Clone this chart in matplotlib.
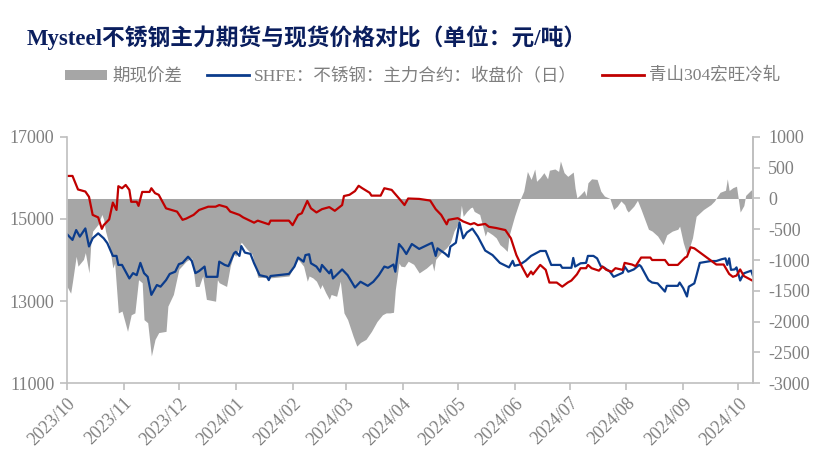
import matplotlib
matplotlib.use("Agg")
import matplotlib.pyplot as plt
import matplotlib.dates as mdates
import numpy as np
import pandas as pd
from matplotlib.patches import Patch
from matplotlib.lines import Line2D

plt.rcParams["axes.unicode_minus"] = False

BLUE = "#0B3C8C"
RED = "#C00000"
GRAY = "#A6A6A6"
TXT = "#7F7F7F"
SPINE = "#BFBFBF"
FONT = ["Liberation Serif", "Noto Sans CJK SC"]

# SHFE stainless main contract close (left axis)
fut_dates = [
    "2023-10-01", "2023-10-04", "2023-10-06", "2023-10-08", "2023-10-11", "2023-10-13", "2023-10-15",
    "2023-10-18", "2023-10-21", "2023-10-23", "2023-10-26", "2023-10-28", "2023-10-29", "2023-10-31",
    "2023-11-04", "2023-11-06", "2023-11-08", "2023-11-10", "2023-11-12", "2023-11-14", "2023-11-16",
    "2023-11-19", "2023-11-21", "2023-11-24", "2023-11-26", "2023-11-29", "2023-12-01", "2023-12-03",
    "2023-12-06", "2023-12-08", "2023-12-10", "2023-12-12", "2023-12-15", "2023-12-16", "2023-12-22",
    "2023-12-23", "2023-12-26", "2023-12-28", "2023-12-31", "2024-01-01", "2024-01-03", "2024-01-04",
    "2024-01-06", "2024-01-09", "2024-01-11", "2024-01-14", "2024-01-18", "2024-01-19", "2024-01-20",
    "2024-01-30", "2024-02-02", "2024-02-04", "2024-02-07", "2024-02-08", "2024-02-10", "2024-02-11",
    "2024-02-14", "2024-02-16", "2024-02-17", "2024-02-21", "2024-02-22", "2024-02-23", "2024-02-28",
    "2024-03-02", "2024-03-06", "2024-03-09", "2024-03-13", "2024-03-16", "2024-03-19", "2024-03-22",
    "2024-03-24", "2024-03-27", "2024-03-28", "2024-03-30", "2024-04-01", "2024-04-03", "2024-04-06",
    "2024-04-10", "2024-04-17", "2024-04-19", "2024-04-20", "2024-04-24", "2024-04-26", "2024-04-27",
    "2024-04-30", "2024-05-02", "2024-05-04", "2024-05-06", "2024-05-09", "2024-05-12", "2024-05-16",
    "2024-05-20", "2024-05-24", "2024-05-29", "2024-05-31", "2024-06-01", "2024-06-04", "2024-06-07",
    "2024-06-10", "2024-06-15", "2024-06-18", "2024-06-21", "2024-06-26", "2024-06-27", "2024-07-02",
    "2024-07-03", "2024-07-04", "2024-07-07", "2024-07-10", "2024-07-11", "2024-07-14", "2024-07-16",
    "2024-07-18", "2024-07-20", "2024-07-23", "2024-07-25", "2024-07-30", "2024-07-31", "2024-08-02",
    "2024-08-05", "2024-08-08", "2024-08-09", "2024-08-13", "2024-08-15", "2024-08-18", "2024-08-22",
    "2024-08-23", "2024-08-29", "2024-08-30", "2024-09-01", "2024-09-03", "2024-09-04", "2024-09-07",
    "2024-09-08", "2024-09-10", "2024-09-16", "2024-09-19", "2024-09-22", "2024-09-24", "2024-09-25",
    "2024-09-26", "2024-09-27", "2024-09-29", "2024-09-30", "2024-10-02", "2024-10-04", "2024-10-08",
    "2024-10-09",
]
fut_close = [
    14630, 14490, 14730, 14570, 14770, 14330, 14530,
    14650, 14530, 14410, 14100, 14100, 13880, 13880,
    13550, 13680, 13630, 13930, 13680, 13590, 13150,
    13390, 13350, 13510, 13660, 13715, 13900, 13930,
    14080, 13980, 13680, 13730, 13840, 13590, 13590,
    13960, 13880, 13850, 14160, 14200, 14100, 14340,
    14180, 14150, 13920, 13630, 13590, 13510, 13610,
    13660, 13840, 14060, 13960, 14120, 14140, 13920,
    13840, 13715, 13880, 13675, 13760, 13550, 13770,
    13630, 13330, 13470, 13370, 13470, 13630, 13840,
    13810, 13890, 13715, 14390, 14285, 14146, 14390,
    14270, 14420, 14100, 14285, 14160, 14080, 14325,
    14420, 14910, 14530, 14670, 14765, 14570, 14230,
    14120, 13930, 13820, 13980, 13860, 13890, 13980,
    14100, 14220, 14220, 13880, 13880, 13810, 13810,
    14050, 13840, 13920, 13930, 14100, 14100, 14040,
    13850, 13810, 13715, 13590, 13690, 13840, 13715,
    13770, 13880, 13840, 13510, 13450, 13430, 13230,
    13370, 13370, 13450, 13310, 13110, 13350, 13430,
    13590, 13930, 13975, 13975, 14020, 14040, 13880,
    14040, 13760, 13770, 13820, 13500, 13675, 13740,
    13610,
]

# Tsingshan 304 cold-rolled spot (left axis)
spot_dates = [
    "2023-10-01", "2023-10-04", "2023-10-07", "2023-10-11", "2023-10-13", "2023-10-15", "2023-10-18",
    "2023-10-20", "2023-10-21", "2023-10-24", "2023-10-26", "2023-10-28", "2023-10-29", "2023-10-31",
    "2023-11-02", "2023-11-04", "2023-11-05", "2023-11-08", "2023-11-09", "2023-11-11", "2023-11-15",
    "2023-11-16", "2023-11-18", "2023-11-20", "2023-11-24", "2023-11-30", "2023-12-03", "2023-12-05",
    "2023-12-09", "2023-12-12", "2023-12-17", "2023-12-21", "2023-12-23", "2023-12-27", "2023-12-29",
    "2024-01-03", "2024-01-05", "2024-01-11", "2024-01-13", "2024-01-19", "2024-01-20", "2024-01-30",
    "2024-02-01", "2024-02-04", "2024-02-06", "2024-02-09", "2024-02-11", "2024-02-14", "2024-02-17",
    "2024-02-21", "2024-02-24", "2024-02-28", "2024-02-29", "2024-03-03", "2024-03-06", "2024-03-08",
    "2024-03-10", "2024-03-14", "2024-03-15", "2024-03-20", "2024-03-22", "2024-03-26", "2024-03-31",
    "2024-04-02", "2024-04-04", "2024-04-10", "2024-04-16", "2024-04-19", "2024-04-22", "2024-04-25",
    "2024-04-26", "2024-05-01", "2024-05-04", "2024-05-08", "2024-05-10", "2024-05-12", "2024-05-16",
    "2024-05-18", "2024-05-22", "2024-05-27", "2024-05-30", "2024-06-02", "2024-06-05", "2024-06-08",
    "2024-06-10", "2024-06-11", "2024-06-15", "2024-06-18", "2024-06-20", "2024-06-24", "2024-06-27",
    "2024-06-30", "2024-07-02", "2024-07-05", "2024-07-07", "2024-07-10", "2024-07-11", "2024-07-13",
    "2024-07-17", "2024-07-19", "2024-07-21", "2024-07-24", "2024-07-26", "2024-07-30", "2024-07-31",
    "2024-08-04", "2024-08-06", "2024-08-09", "2024-08-14", "2024-08-15", "2024-08-22", "2024-08-24",
    "2024-08-29", "2024-09-02", "2024-09-03", "2024-09-05", "2024-09-07", "2024-09-12", "2024-09-19",
    "2024-09-23", "2024-09-26", "2024-09-28", "2024-09-30", "2024-10-02", "2024-10-04", "2024-10-09",
]
spot_price = [
    16050, 16050, 15720, 15670, 15540, 15100, 15040,
    14760, 14850, 14990, 15400, 15220, 15800, 15750,
    15830, 15710, 15420, 15420, 15320, 15660, 15660,
    15750, 15630, 15590, 15260, 15180, 14980, 15010,
    15100, 15220, 15300, 15300, 15340, 15290, 15180,
    15100, 15040, 14910, 14960, 14870, 14960, 14960,
    14850, 15100, 15140, 15440, 15260, 15160, 15240,
    15290, 15200, 15340, 15560, 15590, 15680, 15810,
    15750, 15640, 15570, 15570, 15750, 15710, 15450,
    15340, 15500, 15490, 15450, 15240, 15100, 14870,
    14980, 15020, 14940, 14870, 14900, 14850, 14880,
    14810, 14780, 14730, 14530, 14120, 13840, 13590,
    13720, 13650, 13880, 13760, 13450, 13450, 13350,
    13450, 13500, 13650, 13800, 13800, 13880, 13800,
    13740, 13840, 13760, 13715, 13800, 13760, 13930,
    13890, 13850, 14060, 14060, 14000, 14000, 13880,
    13880, 14060, 14080, 14310, 14285, 14120, 13890,
    13890, 13660, 13590, 13620, 13770, 13610, 13490,
]

# futures - spot basis (right axis)
basis_dates = [
    "2023-10-01", "2023-10-03", "2023-10-04", "2023-10-06", "2023-10-07", "2023-10-10", "2023-10-11",
    "2023-10-13", "2023-10-14", "2023-10-15", "2023-10-18", "2023-10-20", "2023-10-21", "2023-10-22",
    "2023-10-24", "2023-10-26", "2023-10-27", "2023-10-29", "2023-10-31", "2023-11-01", "2023-11-03",
    "2023-11-05", "2023-11-07", "2023-11-09", "2023-11-11", "2023-11-12", "2023-11-14", "2023-11-16",
    "2023-11-18", "2023-11-20", "2023-11-24", "2023-11-25", "2023-11-28", "2023-12-01", "2023-12-05",
    "2023-12-08", "2023-12-10", "2023-12-12", "2023-12-14", "2023-12-16", "2023-12-21", "2023-12-22",
    "2023-12-23", "2023-12-27", "2023-12-29", "2023-12-31", "2024-01-01", "2024-01-04", "2024-01-07",
    "2024-01-10", "2024-01-13", "2024-01-20", "2024-01-30", "2024-02-02", "2024-02-04", "2024-02-07",
    "2024-02-09", "2024-02-10", "2024-02-12", "2024-02-14", "2024-02-16", "2024-02-17", "2024-02-19",
    "2024-02-21", "2024-02-22", "2024-02-25", "2024-02-27", "2024-02-29", "2024-03-02", "2024-03-05",
    "2024-03-07", "2024-03-09", "2024-03-12", "2024-03-15", "2024-03-18", "2024-03-21", "2024-03-23",
    "2024-03-25", "2024-03-27", "2024-03-28", "2024-03-30", "2024-03-31", "2024-04-02", "2024-04-04",
    "2024-04-07", "2024-04-10", "2024-04-14", "2024-04-17", "2024-04-18", "2024-04-19", "2024-04-22",
    "2024-04-25", "2024-04-27", "2024-04-29", "2024-05-02", "2024-05-03", "2024-05-04", "2024-05-06",
    "2024-05-08", "2024-05-09", "2024-05-10", "2024-05-13", "2024-05-16", "2024-05-17", "2024-05-20",
    "2024-05-22", "2024-05-24", "2024-05-26", "2024-05-28", "2024-05-29", "2024-05-30", "2024-06-01",
    "2024-06-04", "2024-06-06", "2024-06-08", "2024-06-10", "2024-06-11", "2024-06-12", "2024-06-13",
    "2024-06-15", "2024-06-17", "2024-06-19", "2024-06-20", "2024-06-23", "2024-06-25", "2024-06-26",
    "2024-06-28", "2024-06-30", "2024-07-03", "2024-07-04", "2024-07-05", "2024-07-07", "2024-07-09",
    "2024-07-10", "2024-07-11", "2024-07-13", "2024-07-16", "2024-07-18", "2024-07-20", "2024-07-23",
    "2024-07-25", "2024-07-27", "2024-07-29", "2024-07-31", "2024-08-01", "2024-08-02", "2024-08-05",
    "2024-08-07", "2024-08-09", "2024-08-11", "2024-08-13", "2024-08-15", "2024-08-18", "2024-08-21",
    "2024-08-23", "2024-08-26", "2024-08-29", "2024-08-30", "2024-09-01", "2024-09-03", "2024-09-04",
    "2024-09-06", "2024-09-08", "2024-09-12", "2024-09-16", "2024-09-18", "2024-09-19", "2024-09-21",
    "2024-09-24", "2024-09-25", "2024-09-26", "2024-09-28", "2024-09-30", "2024-10-02", "2024-10-04",
    "2024-10-05", "2024-10-08", "2024-10-09",
]
basis = [
    -1430, -1540, -1350, -940, -1100, -990, -880,
    -1210, -720, -530, -420, -260, -340, -530,
    -750, -1130, -1050, -1860, -1830, -1940, -2160,
    -1890, -1860, -1320, -1370, -1970, -2020, -2560,
    -2290, -2180, -2160, -1750, -1560, -1150, -1020,
    -965, -1430, -1430, -1260, -1640, -1670, -1320,
    -1370, -1430, -1100, -900, -940, -710, -820,
    -910, -1280, -1290, -1260, -1090, -990, -1100,
    -1345, -1260, -1290, -1345, -1470, -1400, -1530,
    -1640, -1560, -1590, -1345, -1860, -1970, -2240,
    -2400, -2340, -2290, -2160, -2000, -1890, -1860,
    -1860, -1850, -1480, -1050, -1100, -1110, -1020,
    -1070, -1210, -1130, -1050, -1180, -990, -880,
    -800, -720, -530, -370, -110, -290, -210,
    -150, -140, -210, -260, -610, -530, -590,
    -640, -750, -800, -860, -610, -500, -290,
    -20, 120, 440, 310, 390, 480, 280,
    340, 420, 320, 460, 480, 440, 610,
    420, 360, 430, 170, 10, 65, 130,
    40, 255, 320, 310, 120, 40, 0,
    -180, -125, -40, -100, -180, -220, -125,
    -30, -180, -340, -500, -530, -610, -750,
    -590, -530, -500, -450, -720, -910, -830,
    -640, -290, -180, -100, -40, 10, 100,
    135, 320, 130, 175, 200, -220, -115,
    50, 140, 100,
]

fut = pd.Series(fut_close, index=pd.to_datetime(fut_dates))
spot = pd.Series(spot_price, index=pd.to_datetime(spot_dates))
bas = pd.Series(basis, index=pd.to_datetime(basis_dates))

fig = plt.figure(figsize=(8.16, 4.65), dpi=100)
ax = fig.add_axes([0.0821, 0.1763, 0.8407, 0.5291])
ax2 = ax.twinx()

ax2.fill_between(bas.index, 0, bas.values, color=GRAY, lw=0)
ax.plot(fut.index, fut.values, color=BLUE, lw=1.6)
ax.plot(spot.index, spot.values, color=RED, lw=1.6)
# lines above the basis area
ax.set_zorder(ax2.get_zorder() + 1)
ax.patch.set_visible(False)

ax.set_xlim(pd.Timestamp("2023-10-01"), pd.Timestamp("2024-10-09"))
ax.set_ylim(11000, 17000)
ax.set_yticks([11000, 13000, 15000, 17000])
ax2.set_ylim(-3000, 1000)
ax2.set_yticks(np.arange(-3000, 1001, 500))

ax.xaxis.set_major_locator(mdates.MonthLocator())
ax.xaxis.set_major_formatter(mdates.DateFormatter("%Y/%m"))

for a in (ax, ax2):
    for s in a.spines.values():
        s.set_color(SPINE)
        s.set_linewidth(1.2)
    a.spines["top"].set_visible(False)
    a.tick_params(colors=SPINE, labelcolor=TXT, length=5, width=1.2, labelsize=13)
    for lab in a.get_yticklabels() + a.get_xticklabels():
        lab.set_family(FONT)
ax2.spines["left"].set_visible(False)
ax2.spines["bottom"].set_visible(False)
ax.tick_params(axis="y", pad=4)
ax2.tick_params(axis="y", pad=6)
for lab in ax.get_xticklabels():
    lab.set_rotation(45)
    lab.set_ha("right")
    lab.set_rotation_mode("anchor")
    lab.set_fontsize(13)

fig.text(0.033, 0.92, "Mysteel不锈钢主力期货与现货价格对比（单位：元/吨）",
         family=FONT, fontsize=16.4, fontweight="bold", color="#0A1E5E", va="center")

handles = [Patch(color=GRAY, lw=0), Line2D([], [], color=BLUE, lw=2), Line2D([], [], color=RED, lw=2)]
labels = ["期现价差", "SHFE：不锈钢：主力合约：收盘价（日）", "青山304宏旺冷轧"]
leg = fig.legend(handles, labels, ncol=3, loc="center left", bbox_to_anchor=(0.08, 0.836),
                 frameon=False, handlelength=2.4, handleheight=0.5, columnspacing=1.4,
                 handletextpad=0.3, borderaxespad=0, borderpad=0,
                 prop={"family": FONT, "size": 12.6})
for t in leg.get_texts():
    t.set_color(TXT)

fig.savefig("out.png", dpi=100)
